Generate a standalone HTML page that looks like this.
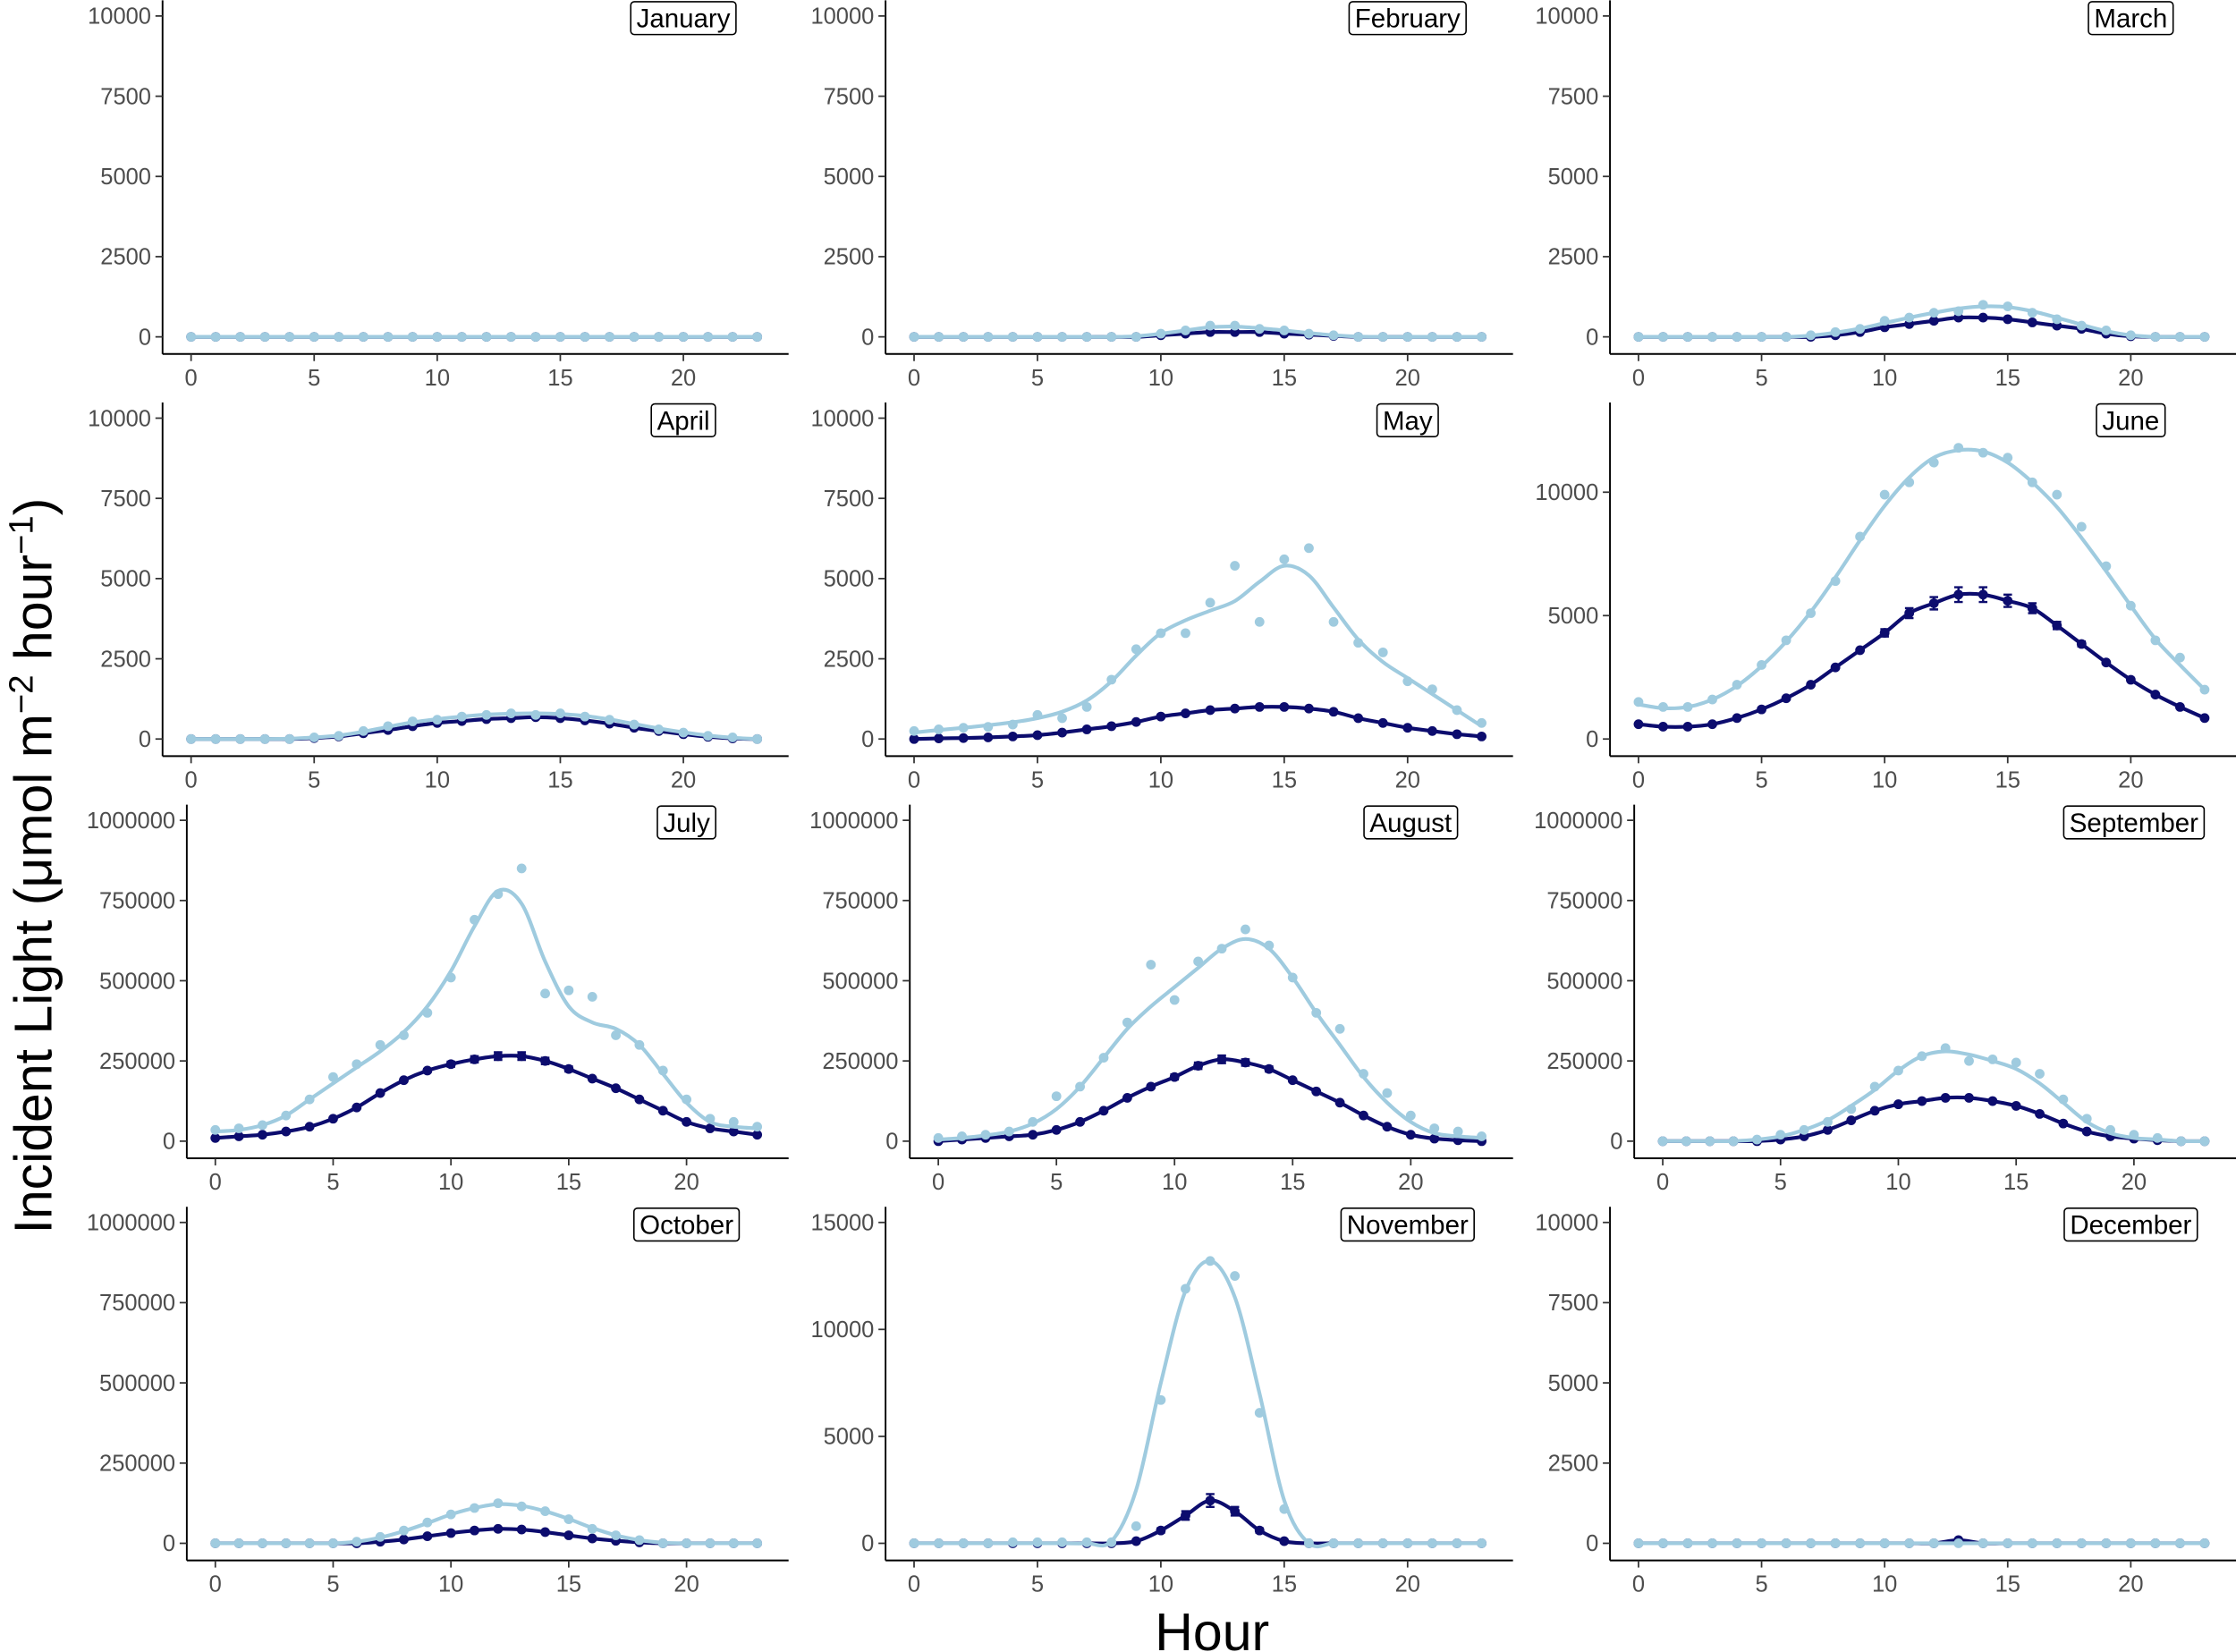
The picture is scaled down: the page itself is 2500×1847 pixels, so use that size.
<!DOCTYPE html>
<html>
<head>
<meta charset="utf-8">
<style>
html,body{margin:0;padding:0;background:#fff;}
svg{display:block;}
text{font-family:"Liberation Sans",Arial,sans-serif;}
</style>
</head>
<body>
<svg id="chart" xmlns="http://www.w3.org/2000/svg" width="2500" height="1847" viewBox="0 0 1568 1158">
<g id="panels"></g>
<text x="850" y="1157" font-size="37" text-anchor="middle" fill="#000">Hour</text>
<text transform="translate(36,607) rotate(-90)" font-size="37" text-anchor="middle" fill="#000">Incident Light (μmol m<tspan baseline-shift="super" font-size="24">−2</tspan> hour<tspan baseline-shift="super" font-size="24">−1</tspan>)</text>
</svg>
<script>
const months = ["January","February","March","April","May","June","July","August","September","October","November","December"];
const hours = [0,1,2,3,4,5,6,7,8,9,10,11,12,13,14,15,16,17,18,19,20,21,22,23];
const Z = [0,0,0,0,0,0,0,0,0,0,0,0,0,0,0,0,0,0,0,0,0,0,0,0];
// light series points
const lightJan = Z;
const lightFeb = [0,0,0,0,0,0,0,0,0,0,100,200,350,350,250,200,100,50,0,0,0,0,0,0];
const lightMar = [0,0,0,0,0,0,0,50,150,250,500,600,750,800,1000,950,750,550,350,200,50,0,0,0];
const lightApr = [0,0,0,0,0,50,100,250,400,550,600,700,750,800,750,800,700,600,450,300,200,100,50,0];
const lightMay = [250,300,350,380,450,750,650,1000,1850,2800,3300,3300,4250,5400,3650,5600,5950,3650,3000,2700,1800,1550,900,500];
const lightJun = [1500,1300,1300,1600,2200,3000,4000,5100,6400,8200,9900,10400,11200,11800,11600,11400,10400,9900,8600,7000,5400,4000,3300,2000];
const lightJul = [35000,40000,50000,80000,130000,200000,240000,300000,330000,400000,510000,690000,770000,850000,460000,470000,450000,330000,300000,220000,130000,70000,60000,45000];
const lightAug = [10000,15000,20000,30000,60000,140000,170000,260000,370000,550000,440000,560000,600000,660000,610000,510000,400000,350000,210000,150000,80000,40000,30000,15000];
const lightSep = [0,0,0,0,5000,20000,35000,60000,100000,170000,220000,265000,290000,250000,255000,245000,210000,130000,70000,35000,20000,10000,0,0];
const lightOct = [0,0,0,0,0,0,5000,20000,40000,65000,90000,110000,125000,115000,100000,75000,45000,25000,10000,0,0,0,0,0];
const lightNov = [0,0,0,0,50,50,50,50,50,800,6700,11900,13200,12500,6100,1600,0,0,0,0,0,0,0,0];
const lightDec = Z;
// light smooth fit
const fitJan = Z;
const fitFeb = [0,0,0,0,0,0,0,0,0,20,100,200,300,320,270,200,120,50,10,0,0,0,0,0];
const fitMar = [0,0,0,0,0,0,0,40,130,260,430,600,750,880,950,930,800,600,380,180,50,0,0,0];
const fitApr = [0,0,0,0,10,50,110,230,380,520,620,700,760,790,800,780,720,610,470,330,210,110,40,0];
const fitMay = [200,280,350,430,520,650,850,1200,1800,2600,3300,3700,4000,4300,4900,5400,5100,4100,3100,2400,1900,1400,900,400];
const fitJun = [1400,1250,1300,1600,2150,2950,3950,5150,6550,8050,9450,10600,11400,11700,11650,11200,10400,9400,8150,6800,5400,4050,3000,2000];
const fitJul = [30000,35000,50000,80000,130000,180000,230000,280000,340000,420000,530000,670000,780000,740000,560000,420000,370000,350000,300000,210000,120000,60000,45000,40000];
const fitAug = [5000,10000,18000,30000,55000,100000,170000,260000,350000,420000,480000,540000,600000,630000,600000,510000,400000,300000,200000,120000,60000,25000,15000,10000];
const fitSep = [0,0,0,0,5000,15000,35000,65000,110000,160000,220000,265000,280000,270000,250000,225000,180000,120000,60000,25000,10000,5000,0,0];
const fitOct = [0,0,0,0,0,0,5000,18000,38000,63000,90000,110000,122000,117000,100000,76000,48000,25000,10000,2000,0,0,0,0];
const fitNov = [0,0,0,0,0,0,0,0,100,2500,7500,11800,13200,11500,7000,2000,0,0,0,0,0,0,0,0];
const fitDec = Z;
// dark series points
const darkJan = Z;
const darkFeb = [0,0,0,0,0,0,0,0,0,0,50,100,150,150,150,100,70,30,0,0,0,0,0,0];
const darkMar = [0,0,0,0,0,0,0,0,50,150,300,400,500,600,600,550,450,350,250,100,20,0,0,0];
const darkApr = [0,0,0,0,0,30,80,180,280,400,500,560,620,650,680,650,580,480,350,250,150,70,20,0];
const darkMay = [0,20,30,50,80,120,200,300,400,530,700,800,900,950,1000,1000,950,850,650,500,350,250,150,80];
const darkJun = [600,500,500,600,850,1200,1650,2200,2900,3600,4300,5100,5500,5850,5850,5600,5300,4600,3850,3100,2400,1800,1300,850];
const darkJul = [10000,15000,20000,30000,45000,70000,105000,150000,190000,220000,240000,255000,265000,265000,250000,225000,195000,165000,130000,95000,60000,40000,30000,20000];
const darkAug = [0,5000,10000,15000,20000,35000,60000,95000,135000,170000,200000,235000,255000,245000,225000,190000,155000,120000,80000,45000,20000,8000,3000,0];
const darkSep = [0,0,0,0,0,5000,15000,35000,65000,95000,115000,125000,135000,135000,125000,110000,85000,55000,30000,15000,8000,3000,0,0];
const darkOct = [0,0,0,0,0,0,0,5000,12000,22000,32000,40000,45000,43000,35000,25000,15000,8000,3000,0,0,0,0,0];
const darkNov = [0,0,0,0,0,0,0,0,0,100,600,1300,2000,1500,600,100,0,0,0,0,0,0,0,0];
const darkDec = [0,0,0,0,0,0,0,0,0,0,0,0,0,100,0,0,0,0,0,0,0,0,0,0];
// dark series error (half-width)
const errJun = [0,0,0,0,0,0,0,0,0,0,150,200,250,300,300,250,200,150,100,0,0,0,0,0];
const errJul = [0,0,0,0,0,0,0,0,0,5000,8000,10000,12000,12000,10000,8000,0,0,0,0,0,0,0,0];
const errAug = [0,0,0,0,0,0,0,0,0,5000,8000,10000,12000,10000,8000,0,0,0,0,0,0,0,0,0];
const errNov = [0,0,0,0,0,0,0,0,0,0,100,200,300,200,100,0,0,0,0,0,0,0,0,0];
const lightAll = [lightJan,lightFeb,lightMar,lightApr,lightMay,lightJun,lightJul,lightAug,lightSep,lightOct,lightNov,lightDec];
const fitAll = [fitJan,fitFeb,fitMar,fitApr,fitMay,fitJun,fitJul,fitAug,fitSep,fitOct,fitNov,fitDec];
const darkAll = [darkJan,darkFeb,darkMar,darkApr,darkMay,darkJun,darkJul,darkAug,darkSep,darkOct,darkNov,darkDec];
const errAll = [Z,Z,Z,Z,Z,errJun,errJul,errAug,Z,Z,errNov,Z];
// y tick labels per panel
const ticksSmall = [0,2500,5000,7500,10000];
const ticksBig = [0,250000,500000,750000,1000000];
const ticksJun = [0,5000,10000];
const ticksNov = [0,5000,10000,15000];
const yTicksAll = [ticksSmall,ticksSmall,ticksSmall,ticksSmall,ticksSmall,ticksJun,ticksBig,ticksBig,ticksBig,ticksBig,ticksNov,ticksSmall];
const yTopAll = [10000,10000,10000,10000,10000,13000,1000000,1000000,1000000,1000000,15000,10000];
const xTicks = [0,5,10,15,20];

const NS="http://www.w3.org/2000/svg";
const LIGHT="#9fcbdf", DARK="#0c0c6e";
const root=document.getElementById('panels');
function mk(tag,attrs,parent){const e=document.createElementNS(NS,tag);for(const k in attrs)e.setAttribute(k,attrs[k]);parent.appendChild(e);return e;}
function pathSmooth(pts){
  let d="M"+pts[0][0]+","+pts[0][1];
  for(let i=0;i<pts.length-1;i++){
    const p0=pts[Math.max(0,i-1)],p1=pts[i],p2=pts[i+1],p3=pts[Math.min(pts.length-1,i+2)];
    const c1x=p1[0]+(p2[0]-p0[0])/6,c1y=p1[1]+(p2[1]-p0[1])/6;
    const c2x=p2[0]-(p3[0]-p1[0])/6,c2y=p2[1]-(p3[1]-p1[1])/6;
    d+=" C"+c1x.toFixed(2)+","+c1y.toFixed(2)+" "+c2x.toFixed(2)+","+c2y.toFixed(2)+" "+p2[0].toFixed(2)+","+p2[1].toFixed(2);
  }
  return d;
}
const colRights=[553,1061,1568];
for(let m=0;m<12;m++){
  const row=Math.floor(m/3), col=m%3;
  const top=row*282, bottom=top+248;
  const maxLabel=String(yTicksAll[m][yTicksAll[m].length-1]).length;
  const axisX=[114,621,1129][col]+(maxLabel>=7?17:0);
  const right=colRights[col];
  const x0=axisX+20, xs=(right-22-x0)/23;
  const zeroY=bottom-12, topPix=top+11;
  const X=h=>x0+h*xs;
  const Y=v=>zeroY-(v/yTopAll[m])*(zeroY-topPix);
  const g=mk('g',{},root);
  
  
  // axes
  const ya=mk('line',{x1:axisX,y1:top,x2:axisX,y2:bottom,stroke:'#000','stroke-width':1.2},g);
  
  
  const xa=mk('line',{x1:axisX,y1:bottom,x2:right,y2:bottom,stroke:'#000','stroke-width':1.2},g);
  
  
  yTicksAll[m].forEach(t=>{
    const y=Y(t);
    mk('line',{x1:axisX-5,y1:y,x2:axisX,y2:y,stroke:'#333','stroke-width':1.1},g);
    const tx=mk('text',{x:axisX-8,y:y+5.5,'font-size':16,'text-anchor':'end',fill:'#4d4d4d'},g);
    tx.textContent=t;
    
    
  });
  xTicks.forEach(t=>{
    const x=X(t);
    mk('line',{x1:x,y1:bottom,x2:x,y2:bottom+5,stroke:'#333','stroke-width':1.1},g);
    const tx=mk('text',{x:x,y:bottom+22,'font-size':16,'text-anchor':'middle',fill:'#4d4d4d'},g);
    tx.textContent=t;
    
    
  });
  // dark line + error bars + points
  const dl=mk('path',{d:pathSmooth(hours.map((h,i)=>[X(h),Y(darkAll[m][i])])),fill:'none',stroke:DARK,'stroke-width':2.6},g);
  
  
  hours.forEach((h,i)=>{
    const e=errAll[m][i];
    if(e>0){
      const eb=mk('path',{d:`M${X(h)-3},${Y(darkAll[m][i]+e)}H${X(h)+3}M${X(h)},${Y(darkAll[m][i]+e)}V${Y(darkAll[m][i]-e)}M${X(h)-3},${Y(darkAll[m][i]-e)}H${X(h)+3}`,stroke:DARK,'stroke-width':1.5,fill:'none'},g);
      
      
    }
  });
  hours.forEach((h,i)=>{
    const c=mk('circle',{cx:X(h),cy:Y(darkAll[m][i]),r:3.4,fill:DARK},g);
    
    
  });
  // light fit + points
  const ll=mk('path',{d:pathSmooth(hours.map((h,i)=>[X(h),Y(fitAll[m][i])])),fill:'none',stroke:LIGHT,'stroke-width':2.6},g);
  
  
  hours.forEach((h,i)=>{
    const c=mk('circle',{cx:X(h),cy:Y(lightAll[m][i]),r:3.4,fill:LIGHT},g);
    
    
  });
  // month label
  const lbl=mk('g',{},g);
  
  
  const tt=mk('text',{x:X(20),y:top+19,'font-size':18.5,'text-anchor':'middle',fill:'#000'},lbl);
  tt.textContent=months[m];
  const w=tt.getComputedTextLength();
  const r=mk('rect',{x:X(20)-w/2-4,y:top+1,width:w+8,height:23,rx:2.5,fill:'#fff',stroke:'#000','stroke-width':1},lbl);
  lbl.insertBefore(r,tt);
}
</script>
</body>
</html>
